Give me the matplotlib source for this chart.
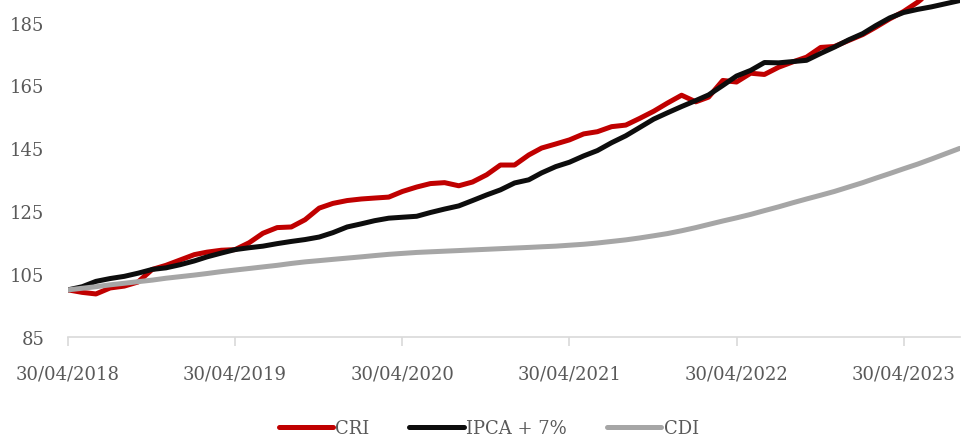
import matplotlib.pyplot as plt
import matplotlib.dates as mdates
import pandas as pd

# Données mensuelles (base 100 en 30/04/2018)
dates = pd.date_range("2018-04-30", periods=65, freq="ME")

cri = [100.0, 99.2, 98.7, 100.6, 101.2, 102.5, 106.5, 107.8, 109.5, 111.2,
       112.0, 112.6, 112.8, 115.0, 118.0, 119.8, 120.0, 122.3, 126.0, 127.5,
       128.4, 128.9, 129.2, 129.5, 131.3, 132.7, 133.8, 134.1, 133.1, 134.3,
       136.6, 139.7, 139.7, 142.9, 145.1, 146.4, 147.7, 149.6, 150.3, 151.9,
       152.4, 154.5, 156.8, 159.4, 161.9, 159.8, 161.3, 166.6, 166.1, 168.9,
       168.5, 170.8, 172.5, 174.0, 177.1, 177.4, 179.3, 181.2, 183.5, 186.2,
       188.5, 191.5, 195.0, 198.0, 201.0]

ipca7 = [100.0, 101.0, 102.7, 103.6, 104.3, 105.3, 106.5, 107.0, 108.0, 109.2,
         110.5, 111.7, 112.8, 113.4, 113.9, 114.7, 115.4, 116.0, 116.8, 118.2,
         120.0, 121.0, 122.0, 122.8, 123.1, 123.4, 124.6, 125.7, 126.7, 128.4,
         130.2, 131.8, 134.0, 135.0, 137.2, 139.2, 140.6, 142.6, 144.3, 146.8,
         149.0, 151.6, 154.3, 156.3, 158.3, 160.2, 162.0, 165.0, 168.0, 169.8,
         172.3, 172.2, 172.6, 173.0, 175.2, 177.2, 179.5, 181.5, 184.0, 186.5,
         188.2, 189.2, 190.0, 191.0, 192.0]

cdi = [100.0, 100.5, 101.0, 101.6, 102.1, 102.6, 103.1, 103.7, 104.2, 104.7,
       105.2, 105.8, 106.3, 106.8, 107.3, 107.8, 108.4, 108.9, 109.3, 109.7,
       110.1, 110.5, 110.9, 111.3, 111.6, 111.9, 112.1, 112.3, 112.5, 112.7,
       112.9, 113.1, 113.3, 113.5, 113.7, 113.9, 114.2, 114.5, 114.9, 115.4,
       115.9, 116.5, 117.2, 117.9, 118.8, 119.8, 120.8, 121.9, 122.9, 124.0,
       125.2, 126.4, 127.7, 128.9, 130.1, 131.3, 132.7, 134.1, 135.5, 137.0,
       138.5, 140.0, 141.6, 143.3, 145.0]

yticks = [85, 105, 125, 145, 165, 185]
xticks = pd.to_datetime(["2018-04-30", "2019-04-30", "2020-04-30",
                         "2021-04-30", "2022-04-30", "2023-04-30"])

plt.rcParams["font.family"] = "DejaVu Serif"
texte = "#595959"

fig = plt.figure(figsize=(9.62, 4.39), dpi=100)
ax = fig.add_axes([0.0707, 0.230, 0.927, 0.770])

ax.plot(dates, cri, color="#C00000", lw=3.6, label="CRI", solid_capstyle="round")
ax.plot(dates, ipca7, color="#0D0D0D", lw=3.6, label="IPCA + 7%", solid_capstyle="round")
ax.plot(dates, cdi, color="#A6A6A6", lw=3.6, label="CDI", solid_capstyle="round")

ax.set_ylim(85, 192.5)
ax.set_xlim(dates[0], dates[-1])
ax.set_yticks(yticks)
ax.set_xticks(xticks)
ax.xaxis.set_major_formatter(mdates.DateFormatter("%d/%m/%Y"))

for s in ["top", "right", "left"]:
    ax.spines[s].set_visible(False)
ax.spines["bottom"].set_color("#D9D9D9")
ax.spines["bottom"].set_linewidth(1.2)

ax.tick_params(axis="y", length=0, pad=17, labelsize=13, labelcolor=texte)
ax.tick_params(axis="x", length=6.5, width=1.2, color="#D9D9D9", pad=13,
               labelsize=13, labelcolor=texte)

leg = fig.legend(loc="center", bbox_to_anchor=(0.508, 0.022), ncol=3, frameon=False,
                 fontsize=13, handlelength=3.0, handletextpad=0.15, columnspacing=2.2)
for t in leg.get_texts():
    t.set_color(texte)

fig.savefig("out.png", dpi=100)
